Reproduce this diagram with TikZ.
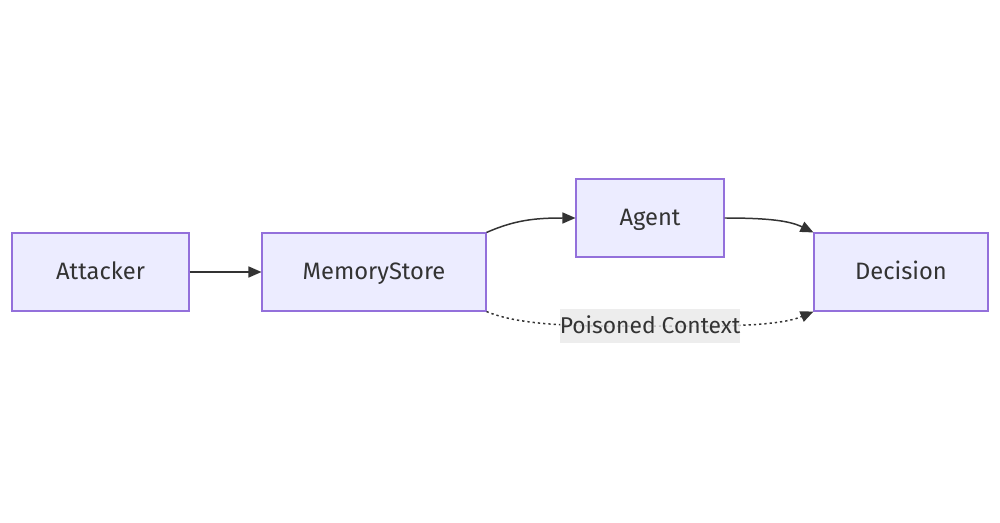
\documentclass[tikz,border=0pt]{standalone}
\usepackage{fontspec}
\setmainfont{Fira Sans}
\usetikzlibrary{arrows.meta,positioning}
\definecolor{cNode}{HTML}{ECECFF}
\definecolor{cEdge}{HTML}{9370DB}
\definecolor{cText}{HTML}{333333}
\definecolor{cLabel}{HTML}{E8E8E8}
\tikzset{
  flowbox/.style = {rectangle, draw=cEdge, fill=cNode, line width=0.6pt,
                    text=cText, font=\fontsize{13.5}{15}\selectfont,
                    text height=10pt, text depth=1pt,
                    minimum height=78*0.02cm, inner sep=0pt},
  fl/.style      = {-{Triangle[length=0.26cm, width=0.22cm]}, draw=cText, line width=0.85pt},
  fld/.style     = {fl, dash pattern=on 1.3pt off 1.7pt},
  lab/.style     = {fill=cLabel, fill opacity=0.8, text opacity=1, text=cText,
                    font=\fontsize{13}{15}\selectfont, inner sep=0pt,
                    text height=10pt, text depth=1pt,
                    minimum height=34*0.02cm, minimum width=180*0.02cm},
}
\begin{document}
\begin{tikzpicture}[x=0.02cm, y=-0.02cm]
  \useasboundingbox (0,0) rectangle (1000,523);
  \node[flowbox, minimum width=177*0.02cm] (attacker) at (100.5,272) {Attacker};
  \node[flowbox, minimum width=224*0.02cm] (memstore) at (374,272) {MemoryStore};
  \node[flowbox, minimum width=148*0.02cm] (agent) at (650,218) {Agent};
  \node[flowbox, minimum width=174*0.02cm] (decision) at (901,272) {Decision};

  \draw[fl] (attacker) -- (memstore);
  \draw[fl] (memstore.north east) .. controls (515,220) and (535,218) .. (agent.west);
  \draw[fl] (agent.east) .. controls (770,218) and (790,221) .. (decision.north west);
  \draw[fld] (memstore.south east) .. controls (525,328) and (600,326) .. (650,326)
    node[lab] (poison) {Poisoned Context}
    .. controls (700,326) and (775,328) .. (decision.south west);
\end{tikzpicture}
\end{document}
